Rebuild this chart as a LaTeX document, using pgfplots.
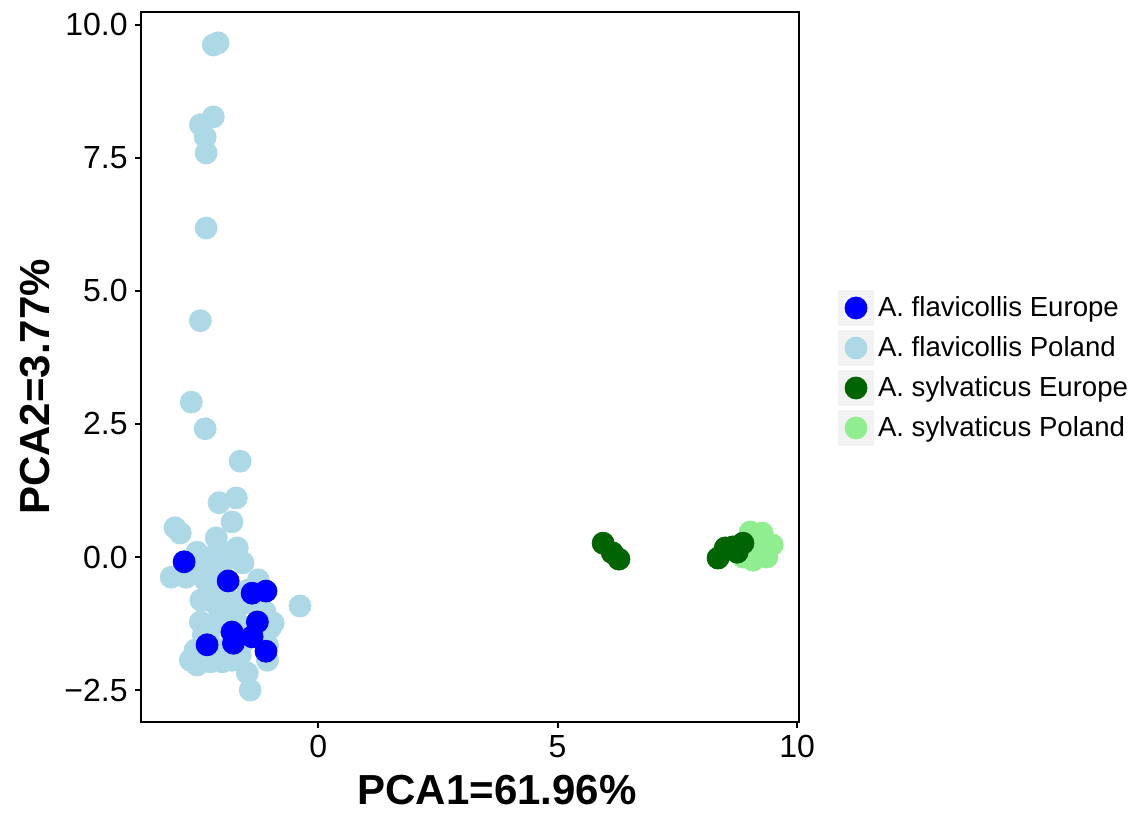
\documentclass[border=0pt]{standalone}
\usepackage{pgfplots}
\pgfplotsset{compat=1.18}
\usepackage{fontspec}
\setmainfont{Liberation Sans}

\definecolor{flEu}{HTML}{0000FF}
\definecolor{flPl}{HTML}{ADD8E6}
\definecolor{syEu}{HTML}{006400}
\definecolor{syPl}{HTML}{90EE90}
\definecolor{keybg}{HTML}{F2F2F2}

\pgfplotsset{
  keyimg/.style={legend image code/.code={
    \fill[keybg,draw=none] (-9pt,-9pt) rectangle (9pt,9pt);
    \draw[##1] plot coordinates {(0pt,0pt)};
  }},
  dots/.style={only marks, mark=*, mark size=5.5pt, color=#1, mark options={draw=none, fill=#1}},
}

\begin{document}
\begin{tikzpicture}
\begin{axis}[
  scale only axis, width=329pt, height=355pt,
  xmin=-3.70, xmax=10.04, ymin=-3.10, ymax=10.24,
  xtick={0,5,10}, xticklabels={0,5,10},
  ytick={-2.5,0,2.5,5,7.5,10},
  yticklabels={−2.5,0.0,2.5,5.0,7.5,10.0},
  xtick pos=bottom, ytick pos=left,
  tick align=outside, major tick length=3pt,
  axis line style={line width=0.9pt},
  tick style={line width=0.9pt, black},
  ticklabel style={font=\fontsize{16}{19}\selectfont, inner sep=3.5pt},
  xlabel={PCA1=61.96\%}, ylabel={PCA2=3.77\%},
  label style={font=\fontsize{21}{25}\selectfont\bfseries},
  xlabel style={at={(axis description cs:0.541,-0.1160)}, anchor=base},
  ylabel style={at={(axis description cs:-0.1383,0.472)}, anchor=base},
  legend style={draw=none, fill=none, inner sep=0pt, outer sep=0pt,
    at={(axis description cs:1.0593,0.4986)}, anchor=west,
    row sep=2pt, column sep=0pt,
    nodes={anchor=west, inner xsep=2pt, inner ysep=1pt},
    font=\fontsize{13.8}{16}\selectfont},
  legend cell align=left,
]
\addlegendimage{dots=flEu, keyimg}
\addlegendentry{A. flavicollis Europe}
\addlegendimage{dots=flPl, keyimg}
\addlegendentry{A. flavicollis Poland}
\addlegendimage{dots=syEu, keyimg}
\addlegendentry{A. sylvaticus Europe}
\addlegendimage{dots=syPl, keyimg}
\addlegendentry{A. sylvaticus Poland}

% A. flavicollis Poland
\addplot[dots=flPl, forget plot] coordinates {
(-2.19,9.62) (-2.09,9.66) (-2.19,8.27) (-2.46,8.12) (-2.36,7.89) (-2.34,7.59)
(-2.34,6.18) (-2.46,4.44) (-2.65,2.91) (-2.36,2.41) (-1.63,1.80) (-1.71,1.11)
(-2.07,1.02) (-1.80,0.66) (-2.99,0.55) (-2.88,0.45) (-2.13,0.36) (-1.69,0.17)
(-2.53,0.09) (-0.38,-0.92)
(-3.07,-0.38) (-2.76,-0.38) (-2.78,-0.09) (-2.46,-0.15) (-2.21,-0.21) (-1.94,-0.06)
(-1.57,-0.11) (-1.80,0.09) (-2.15,0.04) (-2.36,-0.43) (-2.21,-0.62) (-2.00,-0.71)
(-2.19,-0.85) (-1.84,-0.81) (-1.63,-0.90) (-1.32,-0.90) (-1.11,-1.03) (-0.94,-1.24)
(-1.00,-1.33) (-2.46,-1.22) (-2.25,-1.37) (-1.94,-1.18) (-1.63,-1.28) (-1.52,-1.56)
(-2.40,-1.47) (-2.15,-1.71) (-2.57,-1.75) (-2.67,-1.94) (-2.53,-2.03) (-2.25,-1.97)
(-2.00,-1.97) (-1.80,-1.94) (-1.63,-1.84) (-1.06,-1.94) (-1.06,-1.65) (-1.48,-2.18)
(-1.42,-2.50) (-1.25,-0.43) (-1.46,-0.62) (-2.05,-1.03) (-2.45,-0.81)
};
% A. flavicollis Europe
\addplot[dots=flEu, forget plot] coordinates {
(-2.80,-0.09) (-1.88,-0.45) (-1.38,-0.68) (-1.09,-0.64) (-1.27,-1.22)
(-1.80,-1.41) (-1.77,-1.62) (-1.38,-1.50) (-1.09,-1.77) (-2.32,-1.65)
};
% A. sylvaticus Poland
\addplot[dots=syPl, forget plot] coordinates {
(9.02,0.47) (9.27,0.45) (9.48,0.23) (9.37,0.00) (9.08,-0.06)
(8.96,0.28) (8.81,0.13) (9.23,0.19) (8.87,0.00)
};
% A. sylvaticus Europe
\addplot[dots=syEu, forget plot] coordinates {
(5.95,0.26) (6.14,0.08) (6.28,-0.04) (8.35,-0.02) (8.50,0.17)
(8.66,0.19) (8.87,0.26) (8.75,0.09)
};
\end{axis}
\pgfresetboundingbox
\path (-70.5pt,-45.5pt) rectangle (500pt,361pt);
\end{tikzpicture}
\end{document}
